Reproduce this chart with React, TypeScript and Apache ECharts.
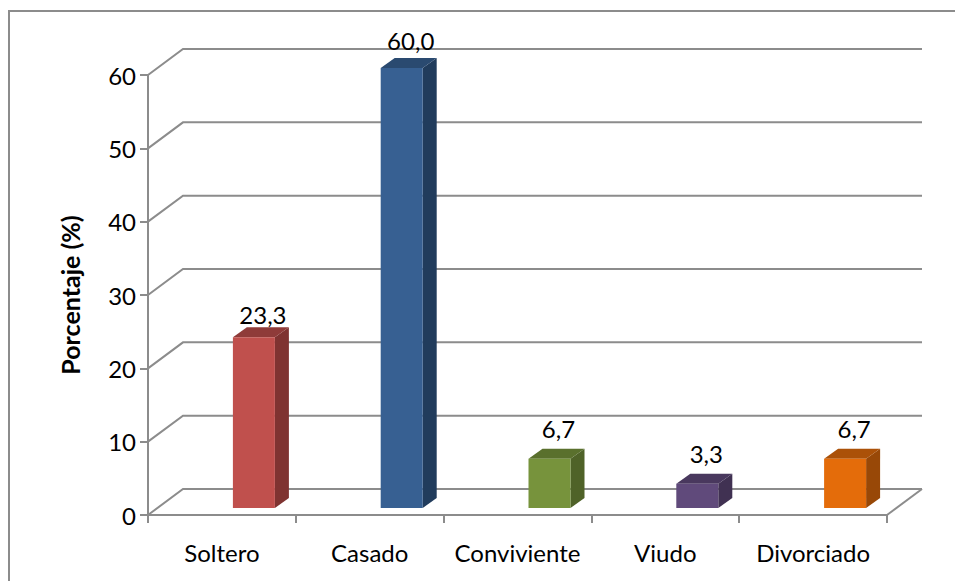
import React, { useEffect, useRef } from "react";
import * as echarts from "echarts";

const categories = ["Soltero", "Casado", "Conviviente", "Viudo", "Divorciado"];
const values = [23.3, 60.0, 6.7, 3.3, 6.7];
const labels = ["23,3", "60,0", "6,7", "3,3", "6,7"];
const frontColors = ["#C0504D", "#376092", "#77933C", "#604A7B", "#E46C0A"];
const topColors = ["#8F3B39", "#2A4A70", "#5A702D", "#49385E", "#AB5108"];
const sideColors = ["#7F3331", "#213C5C", "#4F6228", "#403152", "#984807"];
const gridValues = [0, 10, 20, 30, 40, 50, 60];
const labelLift = [1, 6, 8, 8, 8];

const FONT = "Lato";
const GRAY = "#8C8C8C";
const BACK_DX = 35;
const BACK_DY = -26;
const BAR_W = 42;
const BAR_SHIFT_X = 11;
const BAR_BASE_DY = -7;
const DEPTH_DX = 14;
const DEPTH_DY = -10;

const option = {
  animation: false,
  backgroundColor: "#fff",
  textStyle: { fontFamily: FONT },
  grid: { left: 148, right: 68, top: 75, bottom: 66 },
  graphic: [
    { type: "line", silent: true, z: 0, shape: { x1: 9, y1: 11, x2: 9, y2: 581 }, style: { stroke: GRAY, lineWidth: 2 } },
    { type: "line", silent: true, z: 0, shape: { x1: 8, y1: 11, x2: 955, y2: 11 }, style: { stroke: GRAY, lineWidth: 2 } },
  ],
  xAxis: {
    type: "category",
    data: categories,
    boundaryGap: true,
    axisLine: { show: true, lineStyle: { color: GRAY, width: 2 } },
    axisTick: { show: true, interval: 0, alignWithLabel: false, length: 8, lineStyle: { color: GRAY, width: 2 } },
    axisLabel: { color: "#000", fontSize: 24, fontFamily: FONT, margin: 25, interval: 0, hideOverlap: false },
    splitLine: { show: false },
  },
  yAxis: {
    type: "value",
    min: 0,
    max: 60,
    interval: 10,
    name: "Porcentaje (%)",
    nameLocation: "middle",
    nameGap: 66,
    nameTextStyle: { color: "#000", fontSize: 25, fontWeight: "bold", fontFamily: FONT },
    axisLine: { show: true, lineStyle: { color: GRAY, width: 2 } },
    axisTick: { show: true, length: 8, lineStyle: { color: GRAY, width: 2 } },
    axisLabel: { color: "#000", fontSize: 24, fontFamily: FONT, margin: 12 },
    splitLine: { show: false },
  },
  series: [
    {
      type: "custom",
      name: "Rejilla",
      coordinateSystem: "cartesian2d",
      silent: true,
      z: 1,
      data: gridValues.map((v) => [0, v]),
      encode: { x: 0, y: 1 },
      renderItem: (params: any, api: any) => {
        const y = api.coord([0, api.value(1)])[1];
        const g = params.coordSys;
        const left = g.x;
        const right = g.x + g.width;
        const children: any[] = [
          {
            type: "polyline",
            shape: { points: [[left, y], [left + BACK_DX, y + BACK_DY], [right + BACK_DX, y + BACK_DY]] },
            style: { stroke: GRAY, lineWidth: 2, fill: "none" },
          },
        ];
        if (api.value(1) === 0) {
          children.push({
            type: "line",
            shape: { x1: right, y1: y, x2: right + BACK_DX, y2: y + BACK_DY },
            style: { stroke: GRAY, lineWidth: 2 },
          });
        }
        return { type: "group", children };
      },
    },
    {
      type: "custom",
      name: "Porcentaje",
      coordinateSystem: "cartesian2d",
      silent: true,
      z: 3,
      data: values.map((v, i) => [i, v]),
      encode: { x: 0, y: 1 },
      renderItem: (params: any, api: any) => {
        const i = params.dataIndex;
        const base = api.coord([api.value(0), 0]);
        const top = api.coord([api.value(0), api.value(1)]);
        const x0 = base[0] + BAR_SHIFT_X;
        const x1 = x0 + BAR_W;
        const yB = base[1] + BAR_BASE_DY;
        const yT = top[1] + BAR_BASE_DY;
        return {
          type: "group",
          children: [
            {
              type: "polygon",
              shape: { points: [[x1, yB], [x1 + DEPTH_DX, yB + DEPTH_DY], [x1 + DEPTH_DX, yT + DEPTH_DY], [x1, yT]] },
              style: { fill: sideColors[i] },
            },
            {
              type: "polygon",
              shape: { points: [[x0, yT], [x0 + DEPTH_DX, yT + DEPTH_DY], [x1 + DEPTH_DX, yT + DEPTH_DY], [x1, yT]] },
              style: { fill: topColors[i] },
            },
            { type: "rect", shape: { x: x0, y: yT, width: BAR_W, height: yB - yT }, style: { fill: frontColors[i] } },
            {
              type: "text",
              x: (x0 + x1) / 2 + 9,
              y: yT + DEPTH_DY - labelLift[i],
              style: {
                text: labels[i],
                fill: "#000",
                fontSize: 24,
                fontFamily: FONT,
                textAlign: "center",
                textVerticalAlign: "bottom",
              },
            },
          ],
        };
      },
    },
  ],
};

export default function App() {
  const ref = useRef<HTMLDivElement>(null);
  useEffect(() => {
    const chart = echarts.init(ref.current!, undefined, { renderer: "svg" });
    chart.setOption(option as any);
    return () => chart.dispose();
  }, []);
  return <div ref={ref} style={{ position: "fixed", left: 0, top: 0, width: 955, height: 581 }} />;
}
